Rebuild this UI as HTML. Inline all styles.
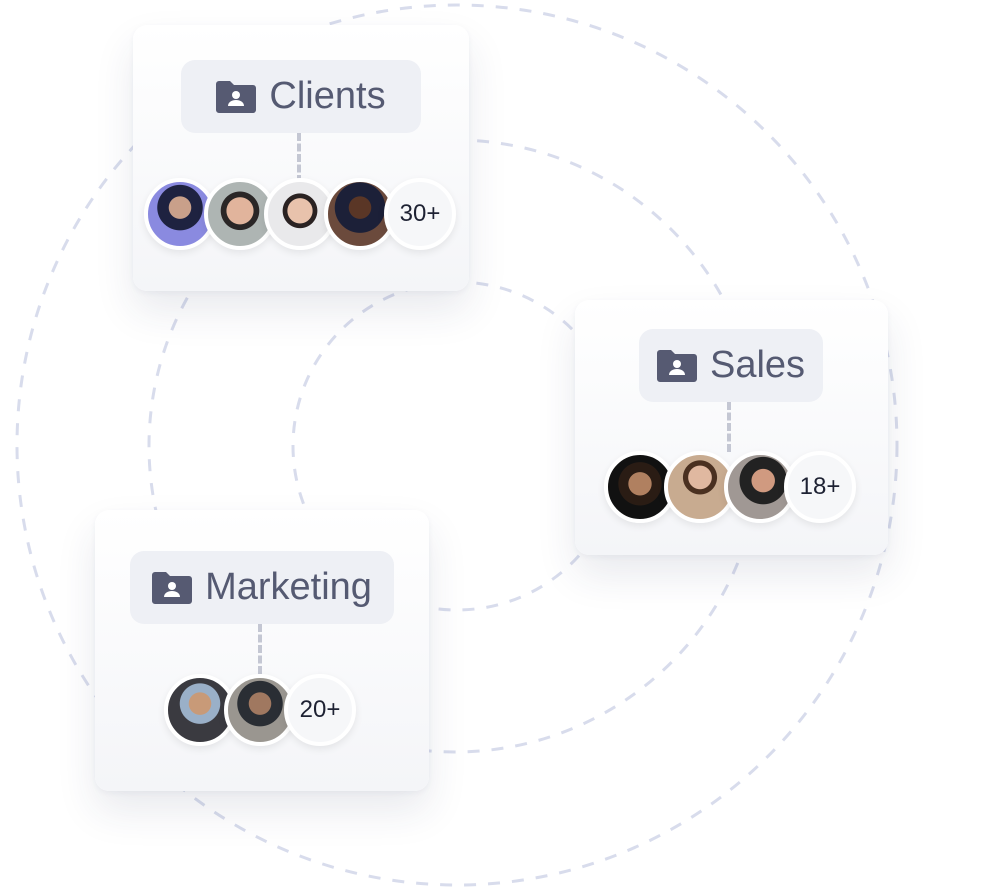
<!DOCTYPE html>
<html><head><meta charset="utf-8"><style>
body{margin:0;width:1008px;height:888px;background:#fff;position:relative;overflow:hidden;font-family:"Liberation Sans",sans-serif}
.card{position:absolute;border-radius:14px;background:linear-gradient(#fff,#f4f5f8);box-shadow:0 20px 40px rgba(40,50,90,.10),0 2px 6px rgba(40,50,90,.05)}
.pill{position:absolute;background:#eef0f5;border-radius:14px;display:flex;align-items:center;justify-content:center;gap:13px;color:#555a72;font-size:38px}
.conn{position:absolute;width:0;border-left:4px dashed #c4c7d3}
.av{position:absolute;width:64px;height:64px;border-radius:50%;border:4px solid #fff;box-shadow:0 3px 8px rgba(0,0,0,.08)}
.num{background:#f6f7f9;display:flex;align-items:center;justify-content:center;font-size:24px;color:#1e2233}
</style></head><body>
<svg width="1008" height="888" style="position:absolute;left:0;top:0">
<g fill="none" stroke="#d8dcec" stroke-width="3" stroke-dasharray="12 12">
<circle cx="457" cy="445" r="440"/>
<circle cx="455" cy="446" r="306"/>
<circle cx="457" cy="446" r="164"/>
</g></svg>
<svg width="0" height="0" style="position:absolute"><defs><symbol id="f" viewBox="0 0 40 32"><path d="M0 3a3 3 0 0 1 3-3h11l4 4h19a3 3 0 0 1 3 3v22a3 3 0 0 1-3 3H3a3 3 0 0 1-3-3z" fill="#565a72"/><circle cx="20" cy="14" r="4" fill="#fff"/><path d="M12 25c0-4 4-6 8-6s8 2 8 6z" fill="#fff"/></symbol></defs></svg>

<div class="card" style="left:133px;top:25px;width:336px;height:266px"></div>
<div class="conn" style="left:297px;top:133px;height:50px"></div>
<div class="pill" style="left:181px;top:60px;width:240px;height:73px"><svg width="40" height="32"><use href="#f"/></svg>Clients</div>
<div class="av" style="left:144px;top:178px;background:radial-gradient(circle at 50% 40%,#c9a08a 0 22%,#1e2240 23% 45%,#8a8ae0 46%)"></div>
<div class="av" style="left:204px;top:178px;background:radial-gradient(circle at 50% 45%,#e1b49c 0 28%,#2a2626 29% 40%,#aeb5b3 41%)"></div>
<div class="av" style="left:264px;top:178px;background:radial-gradient(circle at 50% 45%,#e8c2ac 0 26%,#2a2222 27% 36%,#e9e9eb 37%)"></div>
<div class="av" style="left:324px;top:178px;background:radial-gradient(circle at 50% 40%,#5a3626 0 22%,#1c2038 23% 50%,#6b4a3c 51%)"></div>
<div class="av num" style="left:384px;top:178px">30+</div>

<div class="card" style="left:575px;top:300px;width:313px;height:255px"></div>
<div class="conn" style="left:727px;top:402px;height:50px"></div>
<div class="pill" style="left:639px;top:329px;width:184px;height:73px"><svg width="40" height="32"><use href="#f"/></svg>Sales</div>
<div class="av" style="left:604px;top:451px;background:radial-gradient(circle at 50% 45%,#b08060 0 24%,#2a1c14 25% 45%,#111 46%)"></div>
<div class="av" style="left:664px;top:451px;background:radial-gradient(circle at 50% 35%,#e0b8a0 0 22%,#4a3020 23% 32%,#c8ab90 33%)"></div>
<div class="av" style="left:724px;top:451px;background:radial-gradient(circle at 55% 40%,#d09a80 0 22%,#222 23% 45%,#a09894 46%)"></div>
<div class="av num" style="left:784px;top:451px">18+</div>

<div class="card" style="left:95px;top:510px;width:334px;height:281px"></div>
<div class="conn" style="left:258px;top:624px;height:50px"></div>
<div class="pill" style="left:130px;top:551px;width:264px;height:73px"><svg width="40" height="32"><use href="#f"/></svg>Marketing</div>
<div class="av" style="left:164px;top:674px;background:radial-gradient(circle at 50% 40%,#c89a78 0 22%,#9ab0c8 23% 40%,#3a3a40 41%)"></div>
<div class="av" style="left:224px;top:674px;background:radial-gradient(circle at 50% 40%,#a07860 0 22%,#2a2e34 23% 45%,#9a9690 46%)"></div>
<div class="av num" style="left:284px;top:674px">20+</div>
</body></html>
